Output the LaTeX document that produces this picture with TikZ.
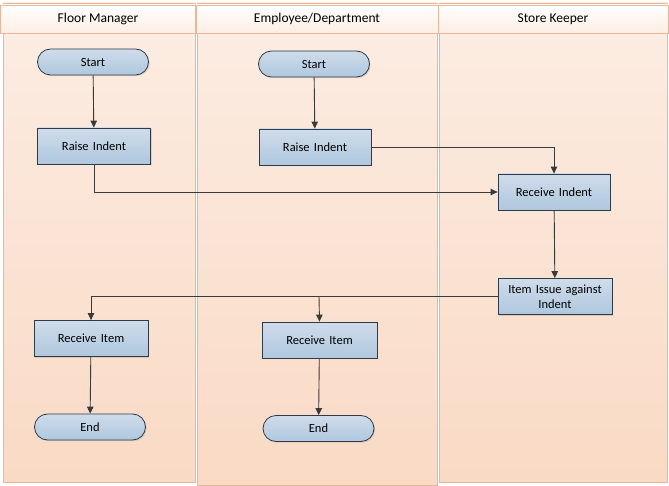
\documentclass[tikz,border=0pt]{standalone}
\usepackage{fontspec}
\setmainfont{Carlito}
\usetikzlibrary{arrows.meta,shapes.misc,shadows}
\definecolor{laneTop}{HTML}{FCEDE3}
\definecolor{laneBot}{HTML}{F9DAC5}
\definecolor{laneLine}{HTML}{E7B79A}
\definecolor{boxTop}{HTML}{CFDCEA}
\definecolor{boxBot}{HTML}{AFC7DE}
\definecolor{boxLine}{HTML}{2F3B48}
\definecolor{arrowCol}{HTML}{3A3A3A}
\tikzset{
  lane/.style={draw=laneLine, line width=0.8pt, top color=laneTop, bottom color=laneBot},
  lanehead/.style={draw=laneLine, line width=0.8pt, top color=white, bottom color=laneTop, font=\fontsize{13.5}{15}\selectfont},
  procbox/.style={draw=boxLine, line width=0.8pt, top color=boxTop, bottom color=boxBot,
    minimum height=36pt, text width=108pt, align=center, inner sep=1pt, font=\fontsize{12.5}{15.5}\selectfont,
    drop shadow={shadow xshift=1.2pt, shadow yshift=-1.2pt, opacity=0.25}},
  termbox/.style={draw=boxLine, line width=0.8pt, top color=boxTop, bottom color=boxBot,
    rounded rectangle, minimum height=26pt, minimum width=113pt, inner sep=1pt, font=\fontsize{12.5}{15}\selectfont,
    drop shadow={shadow xshift=1.2pt, shadow yshift=-1.2pt, opacity=0.25}},
  flow/.style={draw=arrowCol, line width=0.9pt, -{Triangle[length=7pt,width=6.5pt]}},
}
\begin{document}
\begin{tikzpicture}[x=1pt,y=-1pt]
\useasboundingbox (0,0) rectangle (669,486);
% lanes
\path[lane] (3,3) rectangle (195,482);
\path[lane] (197,3) rectangle (437,485);
\path[lane] (439,3) rectangle (667,482);
\node[lanehead, minimum width=195pt, minimum height=28pt, inner sep=0pt] (h1) at (98,19) {Floor Manager};
\node[lanehead, minimum width=242pt, minimum height=28pt, inner sep=0pt] (h2) at (317,19) {Employee/Department};
\node[lanehead, minimum width=230pt, minimum height=28pt, inner sep=0pt] (h3) at (553,19) {Store Keeper};
% nodes
\node[termbox] (s1) at (93,62) {Start};
\node[procbox, text width=111pt] (r1) at (94,146) {Raise Indent};
\node[termbox] (s2) at (314,64) {Start};
\node[procbox, text width=110pt] (r2) at (315,147) {Raise Indent};
\node[procbox, text width=110pt] (ri) at (554,192) {Receive Indent};
\node[procbox, text width=112pt] (ii) at (555,296.5) {Item Issue against\\Indent};
\node[procbox, text width=112pt] (rc1) at (91,338.5) {Receive Item};
\node[procbox, text width=113pt] (rc2) at (319.5,340) {Receive Item};
\node[termbox] (e1) at (90,427) {End};
\node[termbox] (e2) at (318.5,428.5) {End};
\coordinate (j1) at (319,296.5);
% connectors
\draw[flow] (s1) -- (r1);
\draw[flow] (s2) -- (r2);
\draw[flow] (r1.south) |- (ri.west);
\draw[flow] (r2.east) -| (ri.north);
\draw[flow] (ri) -- (ii);
\draw[flow] (ii.west) -| (rc1.north);
\draw[flow] (j1) -- (rc2.north);
\draw[flow] (rc1) -- (e1);
\draw[flow] (rc2) -- (e2);
\end{tikzpicture}
\end{document}
